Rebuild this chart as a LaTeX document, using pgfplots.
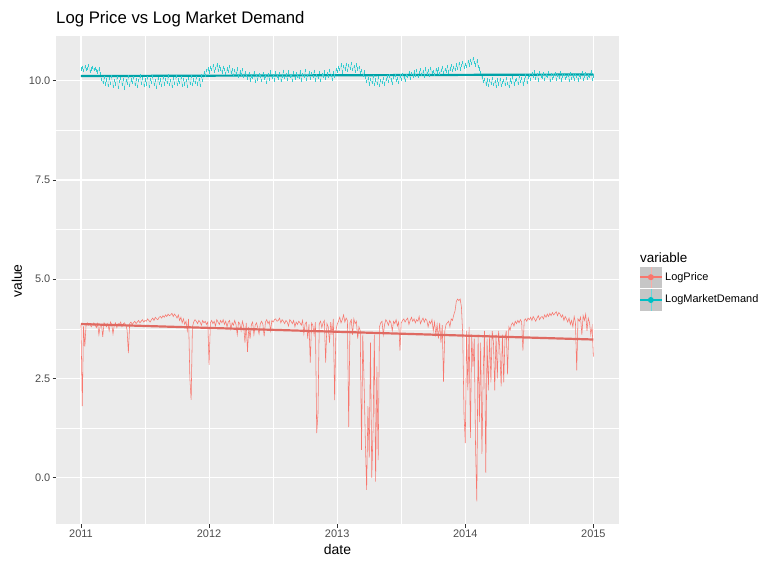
\documentclass[border=0pt]{standalone}
\usepackage{pgfplots}
\usepackage{pgfplotstable}
\pgfplotsset{compat=1.18}
\usepackage{fontspec}
\setmainfont{Liberation Sans}

\definecolor{panelgrey}{HTML}{EBEBEB}
\definecolor{gpred}{HTML}{F8766D}
\definecolor{gpteal}{HTML}{00BFC4}
\definecolor{ticktext}{HTML}{4D4D4D}
\definecolor{tickmark}{HTML}{333333}
\definecolor{keygrey}{HTML}{C6C6C6}

% LogPrice, one value every 0.01 year starting 2011.00
\pgfplotstableread[row sep=\\, header=false]{
3.85\\1.80\\3.82\\3.30\\3.86\\3.90\\3.84\\3.88\\3.80\\3.86\\
3.90\\3.85\\3.78\\3.88\\3.60\\3.82\\3.86\\3.55\\3.90\\3.84\\
3.80\\3.88\\3.70\\3.92\\3.86\\3.62\\3.84\\3.90\\3.78\\3.88\\
3.86\\3.92\\3.80\\3.88\\3.90\\3.84\\3.72\\3.14\\3.88\\3.92\\
3.86\\3.90\\3.94\\3.88\\3.92\\3.96\\3.90\\3.94\\3.98\\3.92\\
3.96\\3.94\\4.00\\3.96\\3.92\\3.98\\4.02\\3.96\\4.04\\4.00\\
3.98\\4.04\\4.06\\4.02\\4.08\\4.04\\4.10\\4.06\\4.12\\4.08\\
4.10\\4.14\\4.06\\4.12\\4.08\\4.02\\4.10\\3.96\\4.04\\3.90\\
4.00\\3.86\\3.94\\3.70\\4.00\\2.50\\1.96\\3.80\\3.92\\3.98\\
3.94\\3.88\\3.96\\3.92\\3.84\\3.96\\3.90\\3.94\\3.86\\3.92\\
2.84\\3.90\\3.96\\3.88\\3.94\\3.82\\3.98\\3.92\\3.86\\3.96\\
3.90\\3.98\\3.86\\3.94\\3.80\\3.92\\3.96\\3.74\\3.90\\3.84\\
3.96\\3.86\\3.60\\3.92\\3.88\\3.70\\3.94\\3.82\\3.40\\3.90\\
3.17\\3.80\\3.50\\3.86\\3.92\\3.60\\3.84\\3.90\\3.78\\3.62\\
3.88\\3.94\\3.86\\3.56\\3.92\\3.98\\3.88\\3.94\\3.70\\3.96\\
3.92\\3.98\\4.00\\3.94\\3.96\\4.02\\3.90\\3.98\\3.94\\3.88\\
3.96\\3.92\\3.82\\3.98\\3.94\\3.88\\3.96\\3.80\\3.92\\3.86\\
3.94\\3.90\\3.84\\3.96\\3.62\\3.88\\3.92\\3.50\\3.86\\2.90\\
3.90\\3.84\\3.60\\3.92\\1.12\\1.60\\3.88\\3.94\\3.78\\3.90\\
3.96\\2.90\\3.88\\3.80\\3.40\\3.92\\3.60\\4.00\\1.95\\3.70\\
3.86\\3.94\\4.04\\3.90\\3.98\\4.10\\3.92\\4.02\\3.96\\1.27\\
3.90\\3.98\\3.60\\4.00\\3.88\\3.94\\3.50\\3.80\\3.70\\0.70\\
3.60\\2.40\\0.90\\-0.31\\1.80\\0.50\\3.40\\0.00\\1.20\\3.60\\
-0.10\\2.80\\0.44\\3.80\\3.90\\3.94\\3.60\\3.86\\3.98\\3.92\\
3.84\\3.96\\3.90\\3.70\\3.94\\3.88\\3.98\\3.82\\3.92\\3.20\\
3.90\\3.96\\4.00\\3.92\\3.98\\4.02\\3.86\\3.96\\4.04\\3.94\\
4.00\\3.90\\3.98\\3.94\\4.06\\3.88\\3.96\\4.02\\3.92\\4.00\\
3.96\\3.80\\3.94\\3.88\\3.98\\3.70\\3.92\\3.60\\3.86\\3.50\\
3.90\\3.40\\3.84\\2.42\\3.70\\3.86\\3.90\\3.94\\3.80\\4.00\\
3.96\\4.10\\4.20\\4.44\\4.50\\4.46\\4.50\\4.30\\3.60\\1.60\\
0.87\\3.70\\2.20\\3.80\\1.00\\3.60\\2.80\\3.50\\0.80\\-0.60\\
3.60\\1.40\\3.40\\0.60\\2.60\\3.70\\0.12\\3.50\\2.20\\3.60\\
2.40\\3.70\\3.40\\2.20\\3.60\\2.50\\3.70\\3.20\\2.30\\3.60\\
2.40\\3.50\\3.70\\2.60\\3.80\\3.72\\3.86\\3.90\\3.82\\3.94\\
3.88\\3.96\\3.90\\3.98\\3.92\\3.20\\3.96\\4.00\\3.94\\4.02\\
3.98\\4.04\\3.96\\4.06\\4.00\\3.94\\4.02\\4.08\\3.98\\4.04\\
4.06\\4.00\\4.10\\4.04\\4.12\\4.06\\4.14\\4.08\\4.16\\4.10\\
4.14\\4.18\\4.08\\4.16\\4.12\\4.04\\4.10\\3.96\\4.06\\4.00\\
3.92\\4.02\\3.86\\3.96\\3.80\\4.06\\3.90\\2.70\\4.00\\3.94\\
4.04\\3.60\\4.08\\3.96\\4.12\\3.70\\4.02\\3.90\\3.60\\3.80\\
3.05\\
}\logprice

% LogMarketDemand, same dates
\pgfplotstableread[row sep=\\, header=false]{
10.30\\10.34\\10.26\\10.36\\10.28\\10.32\\10.38\\10.24\\10.30\\10.34\\
10.28\\10.32\\10.26\\10.22\\10.30\\10.18\\10.04\\9.96\\10.08\\9.92\\
10.02\\9.88\\10.06\\9.94\\10.10\\9.86\\10.00\\9.92\\10.08\\9.84\\
9.98\\10.06\\9.90\\10.04\\9.82\\10.00\\9.94\\10.10\\9.88\\10.02\\
9.96\\10.08\\9.90\\10.04\\9.86\\10.00\\10.12\\9.94\\10.06\\9.88\\
10.02\\9.92\\10.08\\9.86\\10.04\\9.96\\10.10\\9.90\\10.00\\9.84\\
10.06\\9.94\\10.02\\9.88\\10.08\\9.92\\10.04\\9.96\\10.12\\9.90\\
10.00\\9.86\\10.06\\9.94\\10.10\\9.90\\10.02\\9.96\\10.08\\9.88\\
10.04\\9.92\\10.00\\9.86\\10.06\\9.94\\10.10\\9.90\\10.02\\9.96\\
10.08\\9.92\\10.04\\9.88\\10.12\\10.00\\10.20\\10.14\\10.26\\10.30\\
10.22\\10.34\\10.28\\10.38\\10.24\\10.32\\10.40\\10.26\\10.36\\10.30\\
10.22\\10.34\\10.28\\10.18\\10.30\\10.24\\10.36\\10.20\\10.28\\10.14\\
10.26\\10.18\\10.30\\10.12\\10.22\\10.16\\10.28\\10.10\\10.20\\10.14\\
10.06\\10.18\\10.02\\10.12\\10.08\\10.20\\9.98\\10.14\\10.04\\10.16\\
10.10\\10.00\\10.18\\10.06\\10.12\\9.96\\10.16\\10.04\\10.22\\10.08\\
10.14\\10.02\\10.20\\10.10\\10.06\\10.18\\10.00\\10.12\\10.24\\10.08\\
10.16\\10.04\\10.22\\10.10\\10.14\\10.00\\10.20\\10.06\\10.18\\10.12\\
10.08\\10.22\\10.02\\10.16\\10.10\\10.26\\10.04\\10.14\\10.20\\10.06\\
10.18\\10.10\\10.24\\10.02\\10.14\\10.08\\10.20\\10.00\\10.16\\10.12\\
10.22\\10.06\\10.18\\10.10\\10.26\\10.14\\10.04\\10.20\\10.12\\10.28\\
10.24\\10.34\\10.28\\10.40\\10.22\\10.36\\10.30\\10.42\\10.26\\10.38\\
10.32\\10.44\\10.28\\10.36\\10.24\\10.40\\10.30\\10.34\\10.20\\10.26\\
10.14\\10.22\\10.08\\9.98\\10.06\\9.92\\10.04\\9.96\\10.10\\9.90\\
10.02\\9.94\\10.08\\9.88\\10.00\\9.96\\10.06\\9.92\\10.04\\10.10\\
9.98\\10.12\\10.02\\9.94\\10.08\\10.14\\10.00\\10.06\\9.96\\10.12\\
10.04\\10.16\\10.08\\10.00\\10.14\\10.10\\10.20\\10.06\\10.18\\10.12\\
10.22\\10.14\\10.26\\10.10\\10.20\\10.28\\10.16\\10.24\\10.12\\10.30\\
10.18\\10.26\\10.14\\10.32\\10.20\\10.24\\10.16\\10.28\\10.22\\10.30\\
10.18\\10.26\\10.34\\10.20\\10.28\\10.24\\10.36\\10.22\\10.30\\10.38\\
10.26\\10.34\\10.28\\10.40\\10.32\\10.44\\10.30\\10.38\\10.46\\10.34\\
10.42\\10.36\\10.48\\10.40\\10.52\\10.44\\10.56\\10.46\\10.40\\10.50\\
10.36\\10.30\\10.20\\10.08\\9.98\\10.04\\9.92\\10.02\\9.88\\10.00\\
9.94\\10.06\\9.90\\9.98\\9.86\\10.02\\9.92\\10.04\\9.88\\9.96\\
10.00\\9.90\\10.06\\9.94\\9.86\\10.02\\9.96\\10.08\\9.92\\10.00\\
10.04\\9.94\\10.10\\9.98\\10.06\\9.92\\10.02\\10.12\\9.96\\10.08\\
10.14\\10.04\\10.18\\10.10\\10.22\\10.06\\10.16\\10.02\\10.20\\10.12\\
10.08\\10.18\\10.04\\10.14\\10.10\\10.20\\10.00\\10.16\\10.06\\10.12\\
10.18\\10.04\\10.14\\10.08\\10.20\\10.02\\10.12\\10.16\\10.06\\10.10\\
10.14\\10.00\\10.18\\10.06\\10.12\\10.04\\10.16\\10.10\\10.02\\10.14\\
10.08\\10.20\\10.04\\10.12\\10.18\\10.06\\10.14\\10.10\\10.22\\10.04\\
10.12\\
}\logdemand

\begin{document}
\begin{tikzpicture}
\useasboundingbox (0,0) rectangle (762bp,563bp);
\begin{axis}[
  at={(56bp,39bp)}, anchor=south west,
  scale only axis, width=563bp, height=488bp,
  xmin=2010.805, xmax=2015.2, ymin=-1.17, ymax=11.13,
  axis background/.style={fill=panelgrey},
  axis line style={draw=none},
  xtick={2011,2012,2013,2014,2015},
  ytick={0,2.5,5,7.5,10},
  minor xtick={2011.5,2012.5,2013.5,2014.5},
  minor ytick={1.25,3.75,6.25,8.75},
  xtick pos=bottom, ytick pos=left,
  tick align=outside,
  major tick length=3.5bp, minor tick length=0pt,
  major tick style={tickmark, line width=0.7bp},
  grid=both,
  major grid style={white, line width=1.1bp},
  minor grid style={white, line width=0.55bp},
  /pgf/number format/assume math mode=true,
  xticklabel style={/pgf/number format/1000 sep={}, font=\fontsize{11}{13}\selectfont, text=ticktext, inner sep=2bp},
  yticklabel style={/pgf/number format/fixed, /pgf/number format/fixed zerofill, /pgf/number format/precision=1, font=\fontsize{11}{13}\selectfont, text=ticktext, inner sep=2bp},
]
% daily series: demand as small dashes over a faint line, price as a thin line
\addplot[gpteal, line width=0.3bp, opacity=0.35, no marks] table[x expr=2011+\coordindex*0.01, y index=0] {\logdemand};
\addplot[only marks, mark=|, mark size=1.6bp, mark options={gpteal!80!white, line width=0.5bp}] table[x expr=2011+\coordindex*0.01, y index=0] {\logdemand};
\addplot[gpred, line width=0.55bp, no marks] table[x expr=2011+\coordindex*0.01, y index=0] {\logprice};
% linear trends
\addplot[gpteal!85!black, line width=2.2bp, no marks] coordinates {(2011,10.12) (2015,10.16)};
\addplot[gpred!90!black, line width=2.2bp, no marks] coordinates {(2011,3.87) (2015,3.48)};
\end{axis}

\begin{scope}[x=1bp, y=1bp]
  \node[anchor=base west, inner sep=0pt, font=\fontsize{16.8}{19}\selectfont] at (56,539) {Log Price vs Log Market Demand};
  \node[rotate=90, inner sep=0pt, font=\fontsize{14}{16}\selectfont] at (17,282) {value};
  \node[inner sep=0pt, font=\fontsize{14}{16}\selectfont] at (337.5,13) {date};
  % legend
  \node[anchor=west, inner sep=0pt, font=\fontsize{13.5}{16}\selectfont] at (640,305) {variable};
  \fill[keygrey] (640,275.3) rectangle (661.7,296.3);
  \draw[gpred!60!white, line width=0.6bp] (650.85,275.3) -- (650.85,296.3);
  \draw[gpred, line width=2.2bp] (640,285.8) -- (661.7,285.8);
  \fill[gpred] (650.85,285.8) circle (3bp);
  \fill[keygrey] (640,252.3) rectangle (661.7,273.7);
  \draw[gpteal!60!white, line width=0.6bp] (650.85,252.3) -- (650.85,273.7);
  \draw[gpteal, line width=2.2bp] (640,263) -- (661.7,263);
  \fill[gpteal] (650.85,263) circle (3bp);
  \node[anchor=west, inner sep=0pt, font=\fontsize{11}{13}\selectfont] at (665,285.8) {LogPrice};
  \node[anchor=west, inner sep=0pt, font=\fontsize{11}{13}\selectfont] at (665,263) {LogMarketDemand};
\end{scope}
\end{tikzpicture}
\end{document}
